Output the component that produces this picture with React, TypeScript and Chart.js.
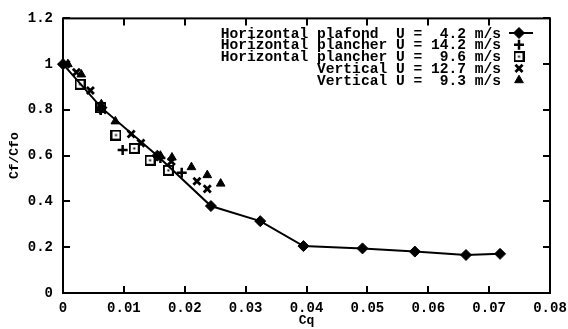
import React, { useEffect, useRef } from "react";
import { Chart, registerables } from "chart.js";
import { drawPoint } from "chart.js/helpers";

Chart.register(...registerables);

// Skin-friction ratio Cf/Cfo against blowing coefficient Cq
const cqPlafond42 = [0, 0.0063, 0.0155, 0.0243, 0.0324, 0.0395, 0.0492, 0.0578, 0.0662, 0.0718];
const cfPlafond42 = [1.0, 0.81, 0.6, 0.38, 0.314, 0.205, 0.195, 0.181, 0.166, 0.171];

const cqPlancher142 = [0.0, 0.0062, 0.0098, 0.016, 0.0195];
const cfPlancher142 = [1.0, 0.8, 0.625, 0.59, 0.525];

const cqPlancher96 = [0.0028, 0.0062, 0.0087, 0.0117, 0.0143, 0.0173];
const cfPlancher96 = [0.912, 0.81, 0.69, 0.632, 0.58, 0.536];

const cqVertical127 = [0.0005, 0.0022, 0.0045, 0.0065, 0.0112, 0.0128, 0.0178, 0.022, 0.0237];
const cfVertical127 = [1.0, 0.965, 0.885, 0.8, 0.695, 0.655, 0.575, 0.488, 0.455];

const cqVertical93 = [0.0008, 0.003, 0.0063, 0.0086, 0.016, 0.0179, 0.0211, 0.0237, 0.0259];
const cfVertical93 = [1.0, 0.955, 0.825, 0.75, 0.6, 0.592, 0.55, 0.515, 0.478];

const seriesLabels = [
  "Horizontal plafond  U =  4.2 m/s",
  "Horizontal plancher U = 14.2 m/s",
  "Horizontal plancher U =  9.6 m/s",
  "Vertical U = 12.7 m/s",
  "Vertical U =  9.3 m/s",
];

const xTitle = "Cq";
const yTitle = "Cf/Cfo";
const xRange = [0, 0.08];
const yRange = [0, 1.2];
const xStep = 0.01;
const yStep = 0.2;

const MONO = "'Liberation Mono', 'Courier New', monospace";

function toPoints(xs: number[], ys: number[]) {
  return xs.map((x, i) => ({ x, y: ys[i] }));
}

// open square with a dot in the middle
function makeDotSquare(): HTMLCanvasElement {
  const c = document.createElement("canvas");
  c.width = 11;
  c.height = 11;
  const g = c.getContext("2d")!;
  g.fillStyle = "#fff";
  g.fillRect(0, 0, 11, 11);
  g.strokeStyle = "#000";
  g.lineWidth = 2;
  g.strokeRect(1, 1, 9, 9);
  g.fillStyle = "#000";
  g.fillRect(4.5, 4.5, 2, 2);
  return c;
}

const frameAndTicks = {
  id: "frameAndTicks",
  afterDatasetsDraw(chart: any) {
    const { ctx, chartArea } = chart;
    const { left, right, top, bottom } = chartArea;
    const xs = chart.scales.x;
    const ys = chart.scales.y;
    const len = 7;
    ctx.save();
    ctx.strokeStyle = "#000";
    ctx.lineWidth = 2;
    ctx.beginPath();
    xs.ticks.forEach((t: any) => {
      const px = Math.round(xs.getPixelForValue(t.value));
      ctx.moveTo(px, bottom);
      ctx.lineTo(px, bottom - len);
      ctx.moveTo(px, top);
      ctx.lineTo(px, top + len);
    });
    ys.ticks.forEach((t: any) => {
      const py = Math.round(ys.getPixelForValue(t.value));
      ctx.moveTo(left, py);
      ctx.lineTo(left + len, py);
      ctx.moveTo(right, py);
      ctx.lineTo(right - len, py);
    });
    ctx.stroke();
    ctx.strokeRect(left, top, right - left, bottom - top);
    ctx.restore();
  },
};

const keyBox = {
  id: "keyBox",
  afterDraw(chart: any) {
    const { ctx } = chart;
    const textRight = 501;
    const symX = 519;
    const y0 = 33;
    const dy = 11.8;
    ctx.save();
    ctx.font = `bold 14.6px ${MONO}`;
    ctx.textAlign = "right";
    ctx.textBaseline = "middle";
    chart.data.datasets.forEach((ds: any, i: number) => {
      const y = y0 + i * dy;
      ctx.fillStyle = "#000";
      ctx.fillText(ds.label, textRight, y + 1);
      ctx.strokeStyle = "#000";
      ctx.fillStyle = ds.pointBackgroundColor;
      ctx.lineWidth = ds.pointBorderWidth;
      if (ds.showLine) {
        ctx.beginPath();
        ctx.lineWidth = 2;
        ctx.moveTo(symX - 10, y);
        ctx.lineTo(symX + 14, y);
        ctx.stroke();
        ctx.lineWidth = ds.pointBorderWidth;
      }
      drawPoint(
        ctx,
        { pointStyle: ds.pointStyle, radius: ds.pointRadius, rotation: 0, borderWidth: ds.pointBorderWidth },
        symX,
        y
      );
    });
    ctx.restore();
  },
};

export default function App() {
  const ref = useRef<HTMLCanvasElement | null>(null);

  useEffect(() => {
    if (!ref.current) return;
    const dotSquare = makeDotSquare();
    const base = {
      borderColor: "#000",
      pointBorderColor: "#000",
      clip: false as const,
    };
    const chart = new Chart(ref.current, {
      type: "scatter",
      data: {
        datasets: [
          {
            ...base,
            label: seriesLabels[0],
            data: toPoints(cqPlafond42, cfPlafond42),
            showLine: true,
            borderWidth: 2,
            pointStyle: "rectRot",
            pointRadius: 5.5,
            pointBorderWidth: 1,
            pointBackgroundColor: "#000",
            backgroundColor: "#000",
          },
          {
            ...base,
            label: seriesLabels[1],
            data: toPoints(cqPlancher142, cfPlancher142),
            showLine: false,
            pointStyle: "cross",
            pointRadius: 5,
            pointBorderWidth: 2.5,
            pointBackgroundColor: "#000",
          },
          {
            ...base,
            label: seriesLabels[2],
            data: toPoints(cqPlancher96, cfPlancher96),
            showLine: false,
            pointStyle: dotSquare,
            pointRadius: 5,
            pointBorderWidth: 2,
            pointBackgroundColor: "#fff",
          },
          {
            ...base,
            label: seriesLabels[3],
            data: toPoints(cqVertical127, cfVertical127),
            showLine: false,
            pointStyle: "crossRot",
            pointRadius: 5,
            pointBorderWidth: 2.8,
            pointBackgroundColor: "#000",
          },
          {
            ...base,
            label: seriesLabels[4],
            data: toPoints(cqVertical93, cfVertical93),
            showLine: false,
            pointStyle: "triangle",
            pointRadius: 5,
            pointBorderWidth: 1,
            pointBackgroundColor: "#000",
          },
        ] as any,
      },
      options: {
        responsive: false,
        animation: false,
        events: [],
        layout: { padding: { top: 14, right: 18, left: 0, bottom: 0 } },
        plugins: {
          legend: { display: false },
          tooltip: { enabled: false },
        },
        scales: {
          x: {
            type: "linear",
            min: xRange[0],
            max: xRange[1],
            afterFit(scale: any) {
              scale.height = 36;
              // let the last tick label run past the plot edge
              scale.paddingLeft = 0;
              scale.paddingRight = 0;
            },
            ticks: {
              stepSize: xStep,
              color: "#000",
              padding: 7,
              maxRotation: 0,
              font: { family: MONO, size: 14, weight: "bold" },
              callback: (v: any) => String(+Number(v).toFixed(2)),
            },
            grid: { display: false, drawTicks: false },
            border: { display: false },
            title: {
              display: true,
              text: xTitle,
              color: "#000",
              padding: { top: 0, bottom: 0 },
              font: { family: MONO, size: 13, weight: "bold" },
            },
          },
          y: {
            type: "linear",
            min: yRange[0],
            max: yRange[1],
            afterFit(scale: any) {
              scale.width = 63;
            },
            ticks: {
              stepSize: yStep,
              color: "#000",
              padding: 10,
              font: { family: MONO, size: 14, weight: "bold" },
              callback: (v: any) => String(+Number(v).toFixed(1)),
            },
            grid: { display: false, drawTicks: false },
            border: { display: false },
            title: {
              display: true,
              text: yTitle,
              color: "#000",
              padding: { top: 7, bottom: 0 },
              font: { family: MONO, size: 13, weight: "bold" },
            },
          },
        },
      },
      plugins: [frameAndTicks, keyBox],
    });
    return () => chart.destroy();
  }, []);

  return (
    <div style={{ position: "absolute", left: 0, top: 0, width: 568, height: 329, background: "#fff" }}>
      <canvas ref={ref} width={568} height={329} style={{ display: "block" }} />
    </div>
  );
}
